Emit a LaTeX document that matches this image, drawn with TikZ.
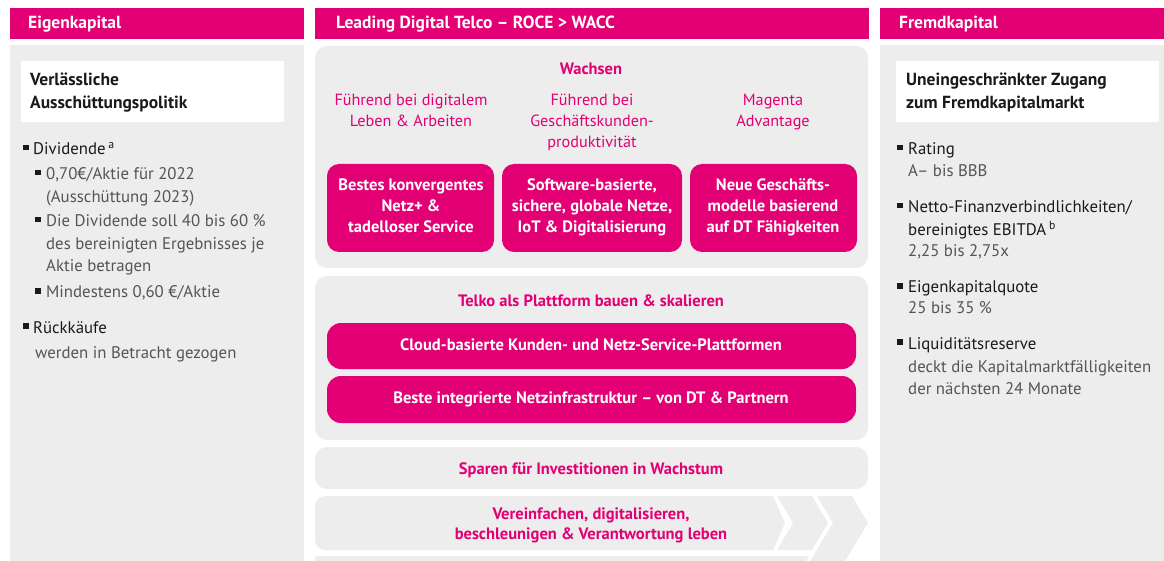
\documentclass[tikz,border=0pt]{standalone}
\usepackage{fontspec}
\setmainfont{PT Sans}
\definecolor{tmagenta}{HTML}{E20074}
\definecolor{tpanel}{HTML}{EDEDED}
\definecolor{tdark}{HTML}{1A1A1A}
\definecolor{tgrey}{HTML}{555555}
\newcommand{\lefttab}[1]{\begin{tabular}[t]{@{}l@{}}#1\end{tabular}}
\newcommand{\centtab}[1]{\begin{tabular}[t]{@{}c@{}}#1\end{tabular}}
\begin{document}
\begin{tikzpicture}[x=1pt, y=-1pt,
    headbar/.style={fill=tmagenta},
    panel/.style={fill=tpanel, rounded corners=12pt},
    pinkbox/.style={fill=tmagenta, rounded corners=12pt},
    headtxt/.style={anchor=base west, inner sep=0pt, text=white, font=\fontsize{17.5}{20}\selectfont\bfseries},
    titletxt/.style={anchor=base west, inner sep=0pt, text=tdark, font=\fontsize{17.5}{22.5}\selectfont\bfseries},
    itemtxt/.style={anchor=base west, inner sep=0pt, text=tdark, font=\fontsize{16.8}{22.5}\selectfont},
    bodytxt/.style={anchor=base west, inner sep=0pt, text=tgrey, font=\fontsize{16.8}{22.5}\selectfont},
    pinktxt/.style={anchor=base, inner sep=0pt, text=tmagenta, font=\fontsize{16.2}{21}\selectfont},
    pinkbold/.style={anchor=base, inner sep=0pt, text=tmagenta, font=\fontsize{16.5}{20.5}\selectfont\bfseries},
    whitetxt/.style={anchor=base, inner sep=0pt, text=white, font=\fontsize{16.5}{21}\selectfont\bfseries}]
    \useasboundingbox (0,0) rectangle (1164,561);

    % Eigenkapital
    \fill[headbar] (10,8) rectangle (304,39);
    \fill[tpanel] (10,45) rectangle (304,561);
    \fill[white] (21,61) rectangle (284,122);
    \node[headtxt] (ekhead) at (28,29) {Eigenkapital};
    \node[titletxt] (ektitle) at (30,86) {\lefttab{Verlässliche\\Ausschüttungspolitik}};
    \node[itemtxt] (dividende) at (33,155) {Dividende\,\textsuperscript{a}};
    \node[bodytxt] (div1) at (46,180) {\lefttab{0,70€/Aktie für 2022\\(Ausschüttung 2023)}};
    \node[bodytxt] (div2) at (46,227) {\lefttab{Die Dividende soll 40 bis 60 \%\\des bereinigten Ergebnisses je\\Aktie betragen}};
    \node[bodytxt] (div3) at (46,298) {Mindestens 0,60 €/Aktie};
    \node[itemtxt] (rueck) at (33,333) {Rückkäufe};
    \node[bodytxt] (rueck1) at (35,358) {werden in Betracht gezogen};
    \foreach \x/\y in {23/155, 23/333, 35/180, 35/227, 35/298}
        \fill[tdark] (\x,\y-10) rectangle ++(5.5,5.5);

    % Leading Digital Telco
    \fill[headbar] (315,8) rectangle (869,39);
    \node[headtxt] (ldthead) at (336,29) {Leading Digital Telco – ROCE > WACC};
    \fill[panel] (315,46) rectangle (868,268);
    \node[pinkbold] (wachsen) at (591,75) {Wachsen};
    \node[pinktxt] (lab1) at (411,106) {\centtab{Führend bei digitalem\\Leben \& Arbeiten}};
    \node[pinktxt] (lab2) at (592,106) {\centtab{Führend bei\\Geschäftskunden-\\produktivität}};
    \node[pinktxt] (lab3) at (773,106) {\centtab{Magenta\\Advantage}};
    \fill[pinkbox] (327,164) rectangle (494,252);
    \fill[pinkbox] (502,164) rectangle (682,252);
    \fill[pinkbox] (690,164) rectangle (857,252);
    \node[whitetxt] (box1) at (411,191) {\centtab{Bestes konvergentes\\Netz+ \&\\tadelloser Service}};
    \node[whitetxt] (box2) at (592,191) {\centtab{Software-basierte,\\sichere, globale Netze,\\IoT \& Digitalisierung}};
    \node[whitetxt] (box3) at (773,191) {\centtab{Neue Geschäfts-\\modelle basierend\\auf DT Fähigkeiten}};

    \fill[panel] (315,276) rectangle (868,440);
    \node[pinkbold] (telko) at (591,306) {Telko als Plattform bauen \& skalieren};
    \fill[pinkbox, rounded corners=14pt] (327,323) rectangle (856,369);
    \fill[pinkbox, rounded corners=14pt] (327,376) rectangle (856,423);
    \node[whitetxt] (cloud) at (591,350) {Cloud-basierte Kunden- und Netz-Service-Plattformen};
    \node[whitetxt] (netz) at (591,403) {Beste integrierte Netzinfrastruktur – von DT \& Partnern};

    \fill[panel] (315,447) rectangle (868,489);
    \node[pinkbold] (sparen) at (591,474) {Sparen für Investitionen in Wachstum};

    % chevrons
    \fill[tpanel] (773,496) -- (785,523) -- (773,550) [rounded corners=10pt] -- (315,550) -- (315,496) [sharp corners] -- cycle;
    \fill[tpanel] (777,496) -- (812,496) -- (828,523) -- (812,550) -- (777,550) -- (793,523) -- cycle;
    \fill[tpanel] (817,496) -- (852,496) -- (868,523) -- (845,561) -- (810,561) -- (833,523) -- cycle;
    \fill[tpanel] (315,556) -- (809,556) -- (806,561) -- (315,561) -- cycle;
    \node[pinkbold] (verein) at (591,519) {\centtab{Vereinfachen, digitalisieren,\\beschleunigen \& Verantwortung leben}};

    % Fremdkapital
    \fill[headbar] (880,8) rectangle (1164,39);
    \fill[tpanel] (880,45) rectangle (1164,561);
    \fill[white] (896,61) rectangle (1159,122);
    \node[headtxt] (fkhead) at (899,29) {Fremdkapital};
    \node[titletxt] (fktitle) at (906,86) {\lefttab{Uneingeschränkter Zugang\\zum Fremdkapitalmarkt}};
    \node[itemtxt] (rating) at (908,155) {Rating};
    \node[bodytxt] (rating1) at (908,177) {A– bis BBB};
    \node[itemtxt] (netto) at (908,213) {\lefttab{Netto-Finanzverbindlichkeiten/\\bereinigtes EBITDA\,\textsuperscript{b}}};
    \node[bodytxt] (netto1) at (908,257) {2,25 bis 2,75x};
    \node[itemtxt] (ekquote) at (908,293) {Eigenkapitalquote};
    \node[bodytxt] (ekquote1) at (908,313) {25 bis 35 \%};
    \node[itemtxt] (liqui) at (908,349) {Liquiditätsreserve};
    \node[bodytxt] (liqui1) at (908,372) {\lefttab{deckt die Kapitalmarktfälligkeiten\\der nächsten 24 Monate}};
    \foreach \y in {155, 213, 293, 349}
        \fill[tdark] (897,\y-10) rectangle ++(5.5,5.5);
\end{tikzpicture}
\end{document}
